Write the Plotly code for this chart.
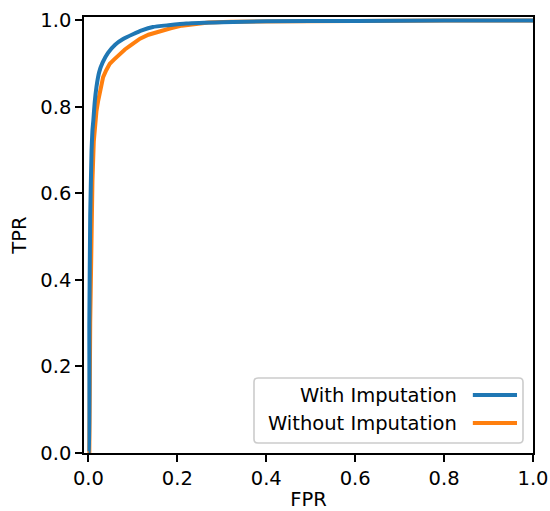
import plotly.graph_objects as go

# Data
fpr_with = [0.0, 0.001, 0.002, 0.004, 0.007, 0.009, 0.011, 0.014, 0.018, 0.024, 0.032, 0.044,
            0.06, 0.078, 0.1, 0.12, 0.145, 0.18, 0.22, 0.3, 0.4, 0.6, 0.8, 1.0]
tpr_with = [0.0, 0.0, 0.3, 0.55, 0.70, 0.746, 0.769, 0.81, 0.846, 0.88, 0.903, 0.925,
            0.944, 0.957, 0.968, 0.977, 0.985, 0.989, 0.993, 0.996, 0.998, 0.999, 1.0, 1.0]

fpr_without = [0.0, 0.002, 0.004, 0.006, 0.009, 0.012, 0.015, 0.018, 0.022, 0.026, 0.033, 0.04,
               0.048, 0.058, 0.071, 0.082, 0.094, 0.105, 0.116, 0.135, 0.16, 0.185, 0.21, 0.24,
               0.27, 0.32, 0.4, 0.6, 0.8, 1.0]
tpr_without = [0.0, 0.0, 0.3, 0.5, 0.63, 0.72, 0.765, 0.79, 0.815, 0.838, 0.869, 0.885,
               0.90, 0.91, 0.924, 0.933, 0.942, 0.95, 0.958, 0.967, 0.975, 0.982, 0.988, 0.992,
               0.995, 0.997, 0.998, 0.999, 1.0, 1.0]

labels = ["With Imputation", "Without Imputation"]
colors = ["#1f77b4", "#ff7f0e"]
tick_vals = [0.0, 0.2, 0.4, 0.6, 0.8, 1.0]
tick_text = ["0.0", "0.2", "0.4", "0.6", "0.8", "1.0"]

FONT = "DejaVu Sans"
FS = 19.5

fig = go.Figure()
fig.add_trace(go.Scatter(x=fpr_without, y=tpr_without, mode="lines", name=labels[1],
                         line=dict(color=colors[1], width=4), showlegend=False))
fig.add_trace(go.Scatter(x=fpr_with, y=tpr_with, mode="lines", name=labels[0],
                         line=dict(color=colors[0], width=4, shape="spline", smoothing=0.4),
                         showlegend=False))

axis_common = dict(
    showline=True, linecolor="black", linewidth=1.6, mirror=True,
    ticks="outside", ticklen=7, tickwidth=1.6, tickcolor="black",
    showgrid=False, zeroline=False, automargin=False,
    tickfont=dict(family=FONT, size=FS, color="black"),
    tickvals=tick_vals, ticktext=tick_text,
)

fig.update_xaxes(range=[-0.01, 1.0],
                 title=dict(text="FPR", font=dict(family=FONT, size=FS, color="black"), standoff=8),
                 **axis_common)
fig.update_yaxes(range=[0.0, 1.008],
                 title=dict(text="TPR", font=dict(family=FONT, size=FS, color="black"), standoff=8),
                 **axis_common)

# Custom legend (matplotlib style: text right-aligned, line sample on the right)
x0, x1, y0, y1 = 0.3786, 0.9777, 0.0229, 0.172
rx, ry = 0.009, 0.0092
box_path = (f"M {x0+rx},{y0} L {x1-rx},{y0} Q {x1},{y0} {x1},{y0+ry} "
            f"L {x1},{y1-ry} Q {x1},{y1} {x1-rx},{y1} "
            f"L {x0+rx},{y1} Q {x0},{y1} {x0},{y1-ry} "
            f"L {x0},{y0+ry} Q {x0},{y0} {x0+rx},{y0} Z")
fig.add_shape(type="path", xref="paper", yref="paper", path=box_path,
              line=dict(color="#cccccc", width=1.6), fillcolor="rgba(255,255,255,0.8)", layer="above")
leg_y = [0.133, 0.0688]
for lab, col, yy in zip(labels, colors, leg_y):
    fig.add_annotation(xref="paper", yref="paper", x=0.8307, y=yy, text=lab, showarrow=False,
                       xanchor="right", yanchor="middle", xshift=2,
                       font=dict(family=FONT, size=FS, color="black"))
    fig.add_shape(type="line", xref="paper", yref="paper", x0=0.866, x1=0.9644, y0=yy, y1=yy,
                  line=dict(color=col, width=4), layer="above")

fig.update_layout(
    width=550, height=511,
    margin=dict(l=84, r=17, t=17, b=58),
    plot_bgcolor="white", paper_bgcolor="white",
    font=dict(family=FONT, size=FS, color="black"),
)

fig.write_html("out.html")
